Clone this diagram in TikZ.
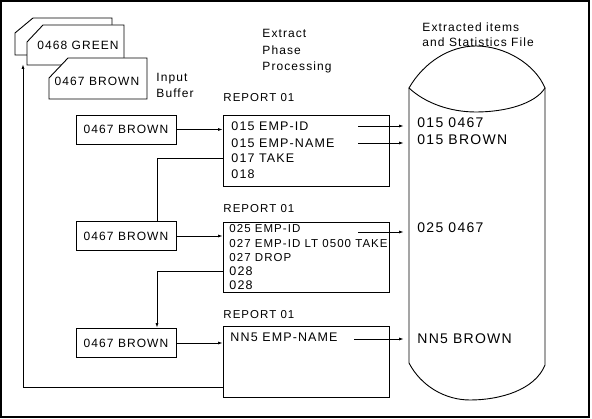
\documentclass[tikz,border=0pt]{standalone}
\usepackage{fontspec}
\setmainfont{Liberation Sans}[LetterSpace=9]
\usetikzlibrary{arrows.meta,positioning}

\begin{document}
\begin{tikzpicture}[x=1pt,y=-1pt,line width=0.9pt,
  arr/.style={-{Latex[length=5pt,width=3pt]}},
  card/.style={draw,fill=white},
  fld/.style={draw,minimum width=100pt,minimum height=29pt,inner sep=0pt,font=\fontsize{12}{14}\selectfont},
  rep/.style={draw,anchor=north west,minimum width=166pt,minimum height=71pt},
  ln/.style={anchor=west,inner sep=0pt,text height=9pt,text depth=0pt,font=\fontsize{12.5}{14}\selectfont},
  lns/.style={ln,text height=8.2pt,font=\fontsize{11.5}{13}\selectfont},
  cyl/.style={ln,text height=10pt,font=\fontsize{14}{15}\selectfont},
  rpt/.style={ln,text height=8.3pt,font=\fontsize{11.5}{13}\selectfont},
  lbl/.style={anchor=north west,inner sep=0pt,align=left,font=\fontsize{12}{15.5}\selectfont}]
  \useasboundingbox (0,0) rectangle (592,419);
  \draw[line width=1.3pt] (1,1) rectangle (589,417);

  \draw[card] (15,33) -- (33,18) -- (112,18) -- (112,55) -- (15,55) -- cycle;
  \draw[card] (27,42) -- (43,25) -- (124,25) -- (124,65) -- (27,65) -- cycle;
  \node[inner sep=0pt,font=\fontsize{12}{14}\selectfont] (green) at (78,45) {0468 GREEN};
  \draw[card] (49,78) -- (68,58) -- (147,58) -- (147,99) -- (49,99) -- cycle;
  \node[inner sep=0pt,font=\fontsize{12}{14}\selectfont] (brown) at (97,81) {0467 BROWN};
  \node[lbl] (inbuf) at (156,73) {Input\\Buffer};
  \node[lbl,font=\fontsize{12}{16.5}\selectfont] (phase) at (262,29) {Extract\\Phase\\Processing};
  \node[lbl] (stat) at (422,22) {Extracted items\\and Statistics File};

  \draw (409,88) .. controls (424,62) and (450,46) .. (476,46) .. controls (505,46) and (535,64) .. (545,88)
    .. controls (535,104) and (505,112) .. (476,112) .. controls (450,112) and (425,103) .. (409,88) -- cycle;
  \draw (409,88) -- (409,363) .. controls (421,386) and (445,400) .. (470,400) .. controls (500,400) and (535,390) .. (545,365) -- (545,88);
  \coordinate (wall) at (404,0);

  \node[fld] (fa) at (126,129.5) {0467 BROWN};
  \node[fld] (fb) at (126,236) {0467 BROWN};
  \node[fld] (fc) at (126,343) {0467 BROWN};

  \node[rpt] (rp1) at (223,97) {REPORT 01};
  \node[rep] (r1) at (223,115) {};
  \node[ln] (a1) at (231,126) {015 EMP-ID};
  \node[ln] (a2) at (231,143) {015 EMP-NAME};
  \node[ln] (a3) at (231,158) {017 TAKE};
  \node[ln] (a4) at (231,174) {018};

  \node[rpt] (rp2) at (223,208) {REPORT 01};
  \node[rep,minimum height=70pt] (r2) at (223,222) {};
  \node[lns] (b1) at (229,228) {025 EMP-ID};
  \node[lns] (b2) at (229,243) {027 EMP-ID LT 0500 TAKE};
  \node[lns] (b3) at (229,257) {027 DROP};
  \node[ln] (b4) at (229,271) {028};
  \node[ln] (b5) at (229,285) {028};

  \node[rpt] (rp3) at (223,314) {REPORT 01};
  \node[rep] (r3) at (223,326) {};
  \node[ln] (c1) at (230,337) {NN5 EMP-NAME};

  \node[cyl] (x1) at (417,123) {015 0467};
  \node[cyl] (x2) at (417,140) {015 BROWN};
  \node[cyl] (x3) at (417,228) {025 0467};
  \node[cyl] (x4) at (417,339) {NN5 BROWN};

  \coordinate (s1) at (358,126);
  \coordinate (s2) at (358,143);
  \coordinate (s3) at (358,232);
  \coordinate (s4) at (354,339);
  \coordinate (buf) at (23,64);

  \draw[arr] (fa) -- (fa -| r1.west);
  \draw[arr] (fb) -- (fb -| r2.west);
  \draw[arr] (fc) -- (fc -| r3.west);
  \draw (a3 -| r1.west) -| ([xshift=31pt]fb.north);
  \draw[arr] (b4 -| r2.west) -| ([xshift=31pt]fc.north);
  \draw[arr] ([yshift=10pt]r3.south west) -| (buf);
  \foreach \s in {s1,s2,s3,s4}
    \draw[arr] (\s) -- (\s -| wall);
\end{tikzpicture}
\end{document}
